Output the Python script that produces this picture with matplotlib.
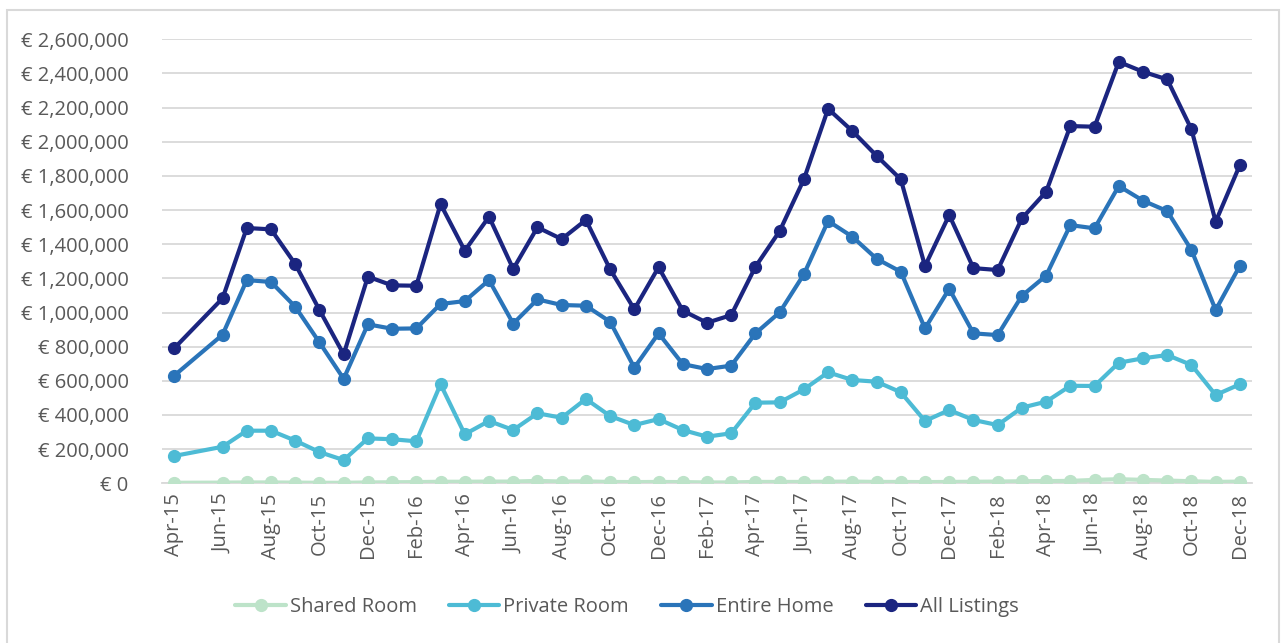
import matplotlib.pyplot as plt
import matplotlib.ticker as mticker
from matplotlib.patches import Rectangle
import pandas as pd

# monthly revenue by listing type (May-15 not collected)
months = ['2015-04', '2015-06', '2015-07', '2015-08', '2015-09', '2015-10', '2015-11', '2015-12',
          '2016-01', '2016-02', '2016-03', '2016-04', '2016-05', '2016-06', '2016-07', '2016-08',
          '2016-09', '2016-10', '2016-11', '2016-12', '2017-01', '2017-02', '2017-03', '2017-04',
          '2017-05', '2017-06', '2017-07', '2017-08', '2017-09', '2017-10', '2017-11', '2017-12',
          '2018-01', '2018-02', '2018-03', '2018-04', '2018-05', '2018-06', '2018-07', '2018-08',
          '2018-09', '2018-10', '2018-11', '2018-12']

shared_room = [3000, 4000, 5000, 5000, 4000, 3000, 3000, 5000,
               6000, 7000, 9000, 9000, 10000, 10000, 14000, 10000,
               11000, 8000, 7000, 8000, 7000, 5000, 5000, 8000,
               8000, 8000, 9000, 10000, 8000, 8000, 7000, 8000,
               9000, 10000, 12000, 13000, 14000, 20000, 24000, 20000,
               16000, 12000, 8000, 10000]

private_room = [160000, 214000, 308000, 308000, 250000, 183000, 136000, 263000,
                258000, 246000, 580000, 287000, 365000, 312000, 410000, 384000,
                494000, 394000, 341000, 376000, 312000, 273000, 293000, 472000,
                474000, 550000, 650000, 605000, 595000, 533000, 365000, 429000,
                371000, 341000, 443000, 478000, 571000, 570000, 706000, 732000,
                751000, 693000, 517000, 580000]

entire_home = [630000, 870000, 1190000, 1179000, 1034000, 825000, 612000, 931000,
               905000, 907000, 1050000, 1067000, 1190000, 935000, 1077000, 1044000,
               1040000, 946000, 677000, 878000, 698000, 669000, 689000, 878000,
               1001000, 1224000, 1536000, 1444000, 1315000, 1239000, 907000, 1139000,
               878000, 868000, 1098000, 1216000, 1512000, 1493000, 1741000, 1655000,
               1594000, 1366000, 1015000, 1274000]

all_listings = [790000, 1083000, 1495000, 1487000, 1284000, 1015000, 755000, 1210000,
                1159000, 1157000, 1635000, 1362000, 1561000, 1255000, 1499000, 1430000,
                1542000, 1253000, 1019000, 1265000, 1011000, 940000, 985000, 1268000,
                1477000, 1780000, 2193000, 2063000, 1918000, 1780000, 1272000, 1571000,
                1260000, 1249000, 1551000, 1707000, 2092000, 2088000, 2468000, 2410000,
                2365000, 2073000, 1532000, 1864000]

series = [
    ('Shared Room', shared_room, '#bde3c9'),
    ('Private Room', private_room, '#4dbbd5'),
    ('Entire Home', entire_home, '#2a74b9'),
    ('All Listings', all_listings, '#1b2580'),
]

plt.rcParams['font.family'] = ['Open Sans', 'DejaVu Sans']

dates = pd.to_datetime(months)
start = dates[0]
x = [(d.year - start.year) * 12 + d.month - start.month for d in dates]
n_months = x[-1]

fig = plt.figure(figsize=(12.81, 6.43), dpi=100)
ax = fig.add_axes([162 / 1281, 1 - 483.3 / 643, 1090 / 1281, 444 / 643])

for name, vals, col in series:
    ax.plot(x, vals, color=col, lw=3.0, marker='o', ms=8.5,
            solid_capstyle='round', label=name, zorder=3)

ax.set_xlim(-0.5, n_months + 0.5)
ax.set_ylim(0, 2600000)
ax.yaxis.set_major_locator(mticker.MultipleLocator(200000))
ax.yaxis.set_major_formatter(mticker.FuncFormatter(lambda v, p: f'€ {v:,.0f}'))

tick_pos = list(range(0, n_months + 1, 2))
tick_lbl = [(start + pd.DateOffset(months=m)).strftime('%b-%y') for m in tick_pos]
ax.set_xticks(tick_pos)
ax.set_xticklabels(tick_lbl, rotation=90)

ax.grid(axis='y', color='#d9d9d9', lw=1.3, zorder=0)
for s in ['top', 'right', 'left']:
    ax.spines[s].set_visible(False)
ax.spines['bottom'].set_color('#d9d9d9')
ax.spines['bottom'].set_linewidth(1.3)
ax.tick_params(axis='both', length=0, labelsize=14.5, colors='#595959', pad=7)
ax.tick_params(axis='y', pad=24)

leg = fig.legend(loc='center', bbox_to_anchor=(0.4895, 1 - 607 / 643), ncol=4,
                 frameon=False, fontsize=14.5, handlelength=2.5, columnspacing=1.6,
                 handletextpad=0.2)
for t in leg.get_texts():
    t.set_color('#595959')

# light chart-area border
fig.patches.append(Rectangle((7 / 1281, -0.01), 1272 / 1281, 1 - 10 / 643 + 0.01,
                             transform=fig.transFigure, fill=False,
                             edgecolor='#d9d9d9', lw=1.5))

fig.savefig('out.png', dpi=100, facecolor='white')
